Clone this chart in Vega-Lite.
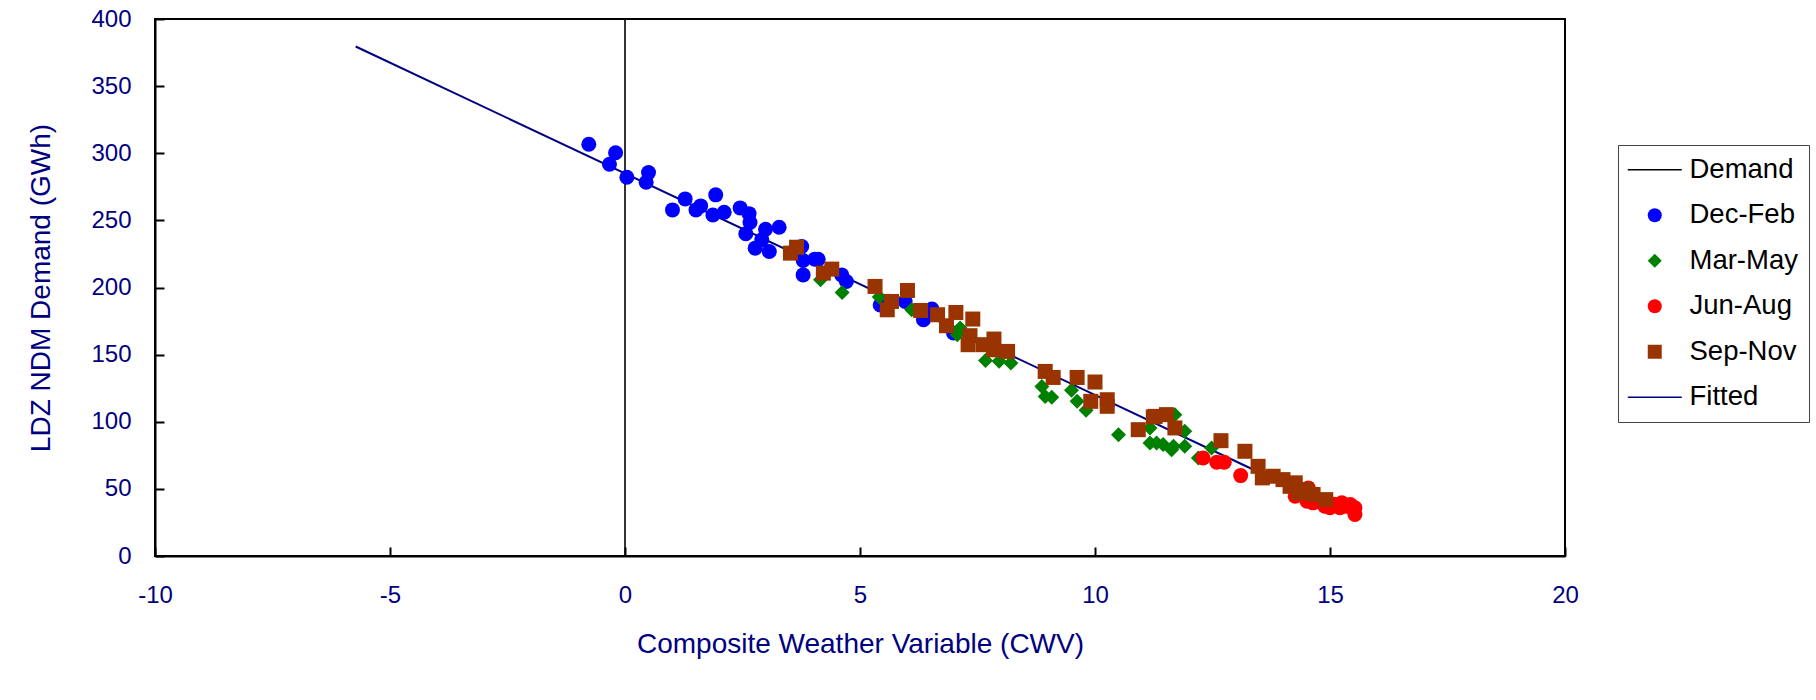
{
  "$schema": "https://vega.github.io/schema/vega-lite/v6.json",
  "autosize": {"type": "none"},
  "width": 1410,
  "height": 537,
  "padding": {"left": 155, "top": 19, "right": 251, "bottom": 144},
  "background": "white",
  "config": {
    "view": {"stroke": "black", "strokeWidth": 2},
    "font": "Liberation Sans",
    "axis": {
      "grid": false,
      "domainColor": "black",
      "domainWidth": 2,
      "tickColor": "black",
      "tickWidth": 2,
      "tickSize": -9,
      "labelFont": "Liberation Sans",
      "labelFontSize": 24,
      "labelColor": "#000080",
      "titleFont": "Liberation Sans",
      "titleFontSize": 28,
      "titleFontWeight": "normal",
      "titleColor": "#000080"
    },
    "legend": {
      "title": null,
      "orient": "none",
      "legendX": 1463,
      "legendY": 126,
      "padding": 11,
      "strokeColor": "#444444",
      "fillColor": "white",
      "labelFont": "Liberation Sans",
      "labelFontSize": 27.5,
      "labelColor": "black",
      "symbolSize": 196,
      "symbolOffset": 12,
      "labelOffset": 21,
      "rowPadding": 16.5
    }
  },
  "data": {
    "values": [
      {"s": "Demand", "cwv": 0, "demand": 0},
      {"s": "Demand", "cwv": 0, "demand": 400},
      {"s": "Fitted", "cwv": -5.73, "demand": 379.5},
      {"s": "Fitted", "cwv": 13.33, "demand": 65},
      {"s": "Dec-Feb", "cwv": -0.77, "demand": 306.7},
      {"s": "Dec-Feb", "cwv": -0.2, "demand": 300.4},
      {"s": "Dec-Feb", "cwv": -0.33, "demand": 291.8},
      {"s": "Dec-Feb", "cwv": 0.04, "demand": 282.1},
      {"s": "Dec-Feb", "cwv": 0.5, "demand": 285.6},
      {"s": "Dec-Feb", "cwv": 0.45, "demand": 278.4},
      {"s": "Dec-Feb", "cwv": 1.01, "demand": 257.8},
      {"s": "Dec-Feb", "cwv": 1.28, "demand": 266.0},
      {"s": "Dec-Feb", "cwv": 1.61, "demand": 260.8},
      {"s": "Dec-Feb", "cwv": 1.51, "demand": 257.8},
      {"s": "Dec-Feb", "cwv": 1.93, "demand": 269.0},
      {"s": "Dec-Feb", "cwv": 1.87, "demand": 254.0},
      {"s": "Dec-Feb", "cwv": 2.11, "demand": 256.1},
      {"s": "Dec-Feb", "cwv": 2.45, "demand": 259.3},
      {"s": "Dec-Feb", "cwv": 2.64, "demand": 255.0},
      {"s": "Dec-Feb", "cwv": 2.66, "demand": 248.4},
      {"s": "Dec-Feb", "cwv": 2.57, "demand": 240.0},
      {"s": "Dec-Feb", "cwv": 2.99, "demand": 243.4},
      {"s": "Dec-Feb", "cwv": 3.28, "demand": 244.9},
      {"s": "Dec-Feb", "cwv": 2.77, "demand": 229.3},
      {"s": "Dec-Feb", "cwv": 3.07, "demand": 226.8},
      {"s": "Dec-Feb", "cwv": 2.91, "demand": 235.5},
      {"s": "Dec-Feb", "cwv": 3.76, "demand": 230.5},
      {"s": "Dec-Feb", "cwv": 3.79, "demand": 220.1},
      {"s": "Dec-Feb", "cwv": 4.04, "demand": 221.1},
      {"s": "Dec-Feb", "cwv": 4.11, "demand": 221.0},
      {"s": "Dec-Feb", "cwv": 3.79, "demand": 209.4},
      {"s": "Dec-Feb", "cwv": 4.61, "demand": 209.4},
      {"s": "Dec-Feb", "cwv": 4.71, "demand": 204.5},
      {"s": "Dec-Feb", "cwv": 5.43, "demand": 187.0},
      {"s": "Dec-Feb", "cwv": 5.53, "demand": 189.6},
      {"s": "Dec-Feb", "cwv": 5.96, "demand": 189.6},
      {"s": "Dec-Feb", "cwv": 6.35, "demand": 176.0},
      {"s": "Dec-Feb", "cwv": 6.53, "demand": 183.9},
      {"s": "Dec-Feb", "cwv": 6.99, "demand": 166.1},
      {"s": "Mar-May", "cwv": 4.16, "demand": 205.7},
      {"s": "Mar-May", "cwv": 4.62, "demand": 196.3},
      {"s": "Mar-May", "cwv": 5.41, "demand": 192.9},
      {"s": "Mar-May", "cwv": 6.1, "demand": 183.4},
      {"s": "Mar-May", "cwv": 7.13, "demand": 169.8},
      {"s": "Mar-May", "cwv": 7.07, "demand": 164.8},
      {"s": "Mar-May", "cwv": 7.67, "demand": 145.7},
      {"s": "Mar-May", "cwv": 7.96, "demand": 145.0},
      {"s": "Mar-May", "cwv": 8.21, "demand": 143.7},
      {"s": "Mar-May", "cwv": 8.87, "demand": 126.3},
      {"s": "Mar-May", "cwv": 8.94, "demand": 118.9},
      {"s": "Mar-May", "cwv": 9.08, "demand": 118.2},
      {"s": "Mar-May", "cwv": 9.5, "demand": 123.4},
      {"s": "Mar-May", "cwv": 9.62, "demand": 115.2},
      {"s": "Mar-May", "cwv": 9.81, "demand": 108.5},
      {"s": "Mar-May", "cwv": 10.5, "demand": 90.4},
      {"s": "Mar-May", "cwv": 11.17, "demand": 95.4},
      {"s": "Mar-May", "cwv": 11.17, "demand": 84.2},
      {"s": "Mar-May", "cwv": 11.31, "demand": 84.2},
      {"s": "Mar-May", "cwv": 11.45, "demand": 83.0},
      {"s": "Mar-May", "cwv": 11.67, "demand": 81.7},
      {"s": "Mar-May", "cwv": 11.63, "demand": 79.2},
      {"s": "Mar-May", "cwv": 11.7, "demand": 105.3},
      {"s": "Mar-May", "cwv": 11.91, "demand": 92.9},
      {"s": "Mar-May", "cwv": 11.91, "demand": 81.7},
      {"s": "Mar-May", "cwv": 12.2, "demand": 73.0},
      {"s": "Mar-May", "cwv": 12.48, "demand": 80.5},
      {"s": "Jun-Aug", "cwv": 12.3, "demand": 73.0},
      {"s": "Jun-Aug", "cwv": 12.59, "demand": 69.8},
      {"s": "Jun-Aug", "cwv": 12.75, "demand": 69.8},
      {"s": "Jun-Aug", "cwv": 13.1, "demand": 59.9},
      {"s": "Jun-Aug", "cwv": 14.54, "demand": 50.7},
      {"s": "Jun-Aug", "cwv": 14.4, "demand": 47.0},
      {"s": "Jun-Aug", "cwv": 14.26, "demand": 44.5},
      {"s": "Jun-Aug", "cwv": 14.51, "demand": 40.8},
      {"s": "Jun-Aug", "cwv": 14.64, "demand": 39.6},
      {"s": "Jun-Aug", "cwv": 14.75, "demand": 42.0},
      {"s": "Jun-Aug", "cwv": 14.89, "demand": 37.1},
      {"s": "Jun-Aug", "cwv": 15.0, "demand": 36.0},
      {"s": "Jun-Aug", "cwv": 15.1, "demand": 38.5},
      {"s": "Jun-Aug", "cwv": 15.25, "demand": 39.6},
      {"s": "Jun-Aug", "cwv": 15.21, "demand": 35.9},
      {"s": "Jun-Aug", "cwv": 15.35, "demand": 37.0},
      {"s": "Jun-Aug", "cwv": 15.43, "demand": 38.3},
      {"s": "Jun-Aug", "cwv": 15.53, "demand": 35.9},
      {"s": "Jun-Aug", "cwv": 15.53, "demand": 30.9},
      {"s": "Sep-Nov", "cwv": 3.52, "demand": 225.6},
      {"s": "Sep-Nov", "cwv": 3.65, "demand": 230.0},
      {"s": "Sep-Nov", "cwv": 4.22, "demand": 210.7},
      {"s": "Sep-Nov", "cwv": 4.4, "demand": 213.7},
      {"s": "Sep-Nov", "cwv": 5.32, "demand": 200.8},
      {"s": "Sep-Nov", "cwv": 5.67, "demand": 189.6},
      {"s": "Sep-Nov", "cwv": 5.58, "demand": 183.4},
      {"s": "Sep-Nov", "cwv": 6.01, "demand": 197.8},
      {"s": "Sep-Nov", "cwv": 6.29, "demand": 182.9},
      {"s": "Sep-Nov", "cwv": 6.65, "demand": 179.7},
      {"s": "Sep-Nov", "cwv": 6.84, "demand": 171.5},
      {"s": "Sep-Nov", "cwv": 7.04, "demand": 181.4},
      {"s": "Sep-Nov", "cwv": 7.4, "demand": 176.5},
      {"s": "Sep-Nov", "cwv": 7.34, "demand": 164.1},
      {"s": "Sep-Nov", "cwv": 7.3, "demand": 157.4},
      {"s": "Sep-Nov", "cwv": 7.62, "demand": 157.4},
      {"s": "Sep-Nov", "cwv": 7.85, "demand": 161.6},
      {"s": "Sep-Nov", "cwv": 7.84, "demand": 153.6},
      {"s": "Sep-Nov", "cwv": 8.14, "demand": 152.4},
      {"s": "Sep-Nov", "cwv": 8.94, "demand": 137.5},
      {"s": "Sep-Nov", "cwv": 9.11, "demand": 133.0},
      {"s": "Sep-Nov", "cwv": 9.62, "demand": 133.0},
      {"s": "Sep-Nov", "cwv": 10.0, "demand": 129.6},
      {"s": "Sep-Nov", "cwv": 9.91, "demand": 115.2},
      {"s": "Sep-Nov", "cwv": 10.26, "demand": 116.4},
      {"s": "Sep-Nov", "cwv": 10.26, "demand": 111.5},
      {"s": "Sep-Nov", "cwv": 10.92, "demand": 94.1},
      {"s": "Sep-Nov", "cwv": 11.24, "demand": 103.6},
      {"s": "Sep-Nov", "cwv": 11.52, "demand": 105.3},
      {"s": "Sep-Nov", "cwv": 11.7, "demand": 95.4},
      {"s": "Sep-Nov", "cwv": 11.28, "demand": 104.0},
      {"s": "Sep-Nov", "cwv": 12.68, "demand": 85.9},
      {"s": "Sep-Nov", "cwv": 13.19, "demand": 78.0},
      {"s": "Sep-Nov", "cwv": 13.47, "demand": 66.8},
      {"s": "Sep-Nov", "cwv": 13.56, "demand": 58.2},
      {"s": "Sep-Nov", "cwv": 13.79, "demand": 59.4},
      {"s": "Sep-Nov", "cwv": 14.0, "demand": 56.9},
      {"s": "Sep-Nov", "cwv": 14.15, "demand": 51.9},
      {"s": "Sep-Nov", "cwv": 14.26, "demand": 54.5},
      {"s": "Sep-Nov", "cwv": 14.33, "demand": 47.0},
      {"s": "Sep-Nov", "cwv": 14.49, "demand": 49.5},
      {"s": "Sep-Nov", "cwv": 14.64, "demand": 45.8},
      {"s": "Sep-Nov", "cwv": 14.91, "demand": 42.0}
    ]
  },
  "encoding": {
    "x": {
      "field": "cwv",
      "type": "quantitative",
      "scale": {"domain": [-10, 20], "nice": false, "zero": false},
      "axis": {
        "title": "Composite Weather Variable (CWV)",
        "values": [-10, -5, 0, 5, 10, 15, 20],
        "labelExpr": "'' + datum.value",
        "labelPadding": 36,
        "labelFlush": false,
        "titlePadding": 23
      }
    },
    "y": {
      "field": "demand",
      "type": "quantitative",
      "scale": {"domain": [0, 400], "nice": false},
      "axis": {
        "title": "LDZ NDM Demand (GWh)",
        "values": [0, 50, 100, 150, 200, 250, 300, 350, 400],
        "labelExpr": "'' + datum.value",
        "labelPadding": 33,
        "labelFlush": false,
        "titlePadding": 35
      }
    },
    "color": {
      "field": "s",
      "type": "nominal",
      "scale": {
        "domain": ["Demand", "Dec-Feb", "Mar-May", "Jun-Aug", "Sep-Nov", "Fitted"],
        "range": ["#000000", "#0000FF", "#008000", "#FF0000", "#993300", "#000080"]
      },
      "legend": {
        "encode": {
          "symbols": {
            "update": {
              "fill": {"scale": "color", "field": "value"},
              "stroke": {"scale": "color", "field": "value"},
              "opacity": {"value": 1},
              "strokeWidth": {"signal": "datum.value === 'Demand' || datum.value === 'Fitted' ? 1.6 : 0"},
              "size": {"signal": "datum.value === 'Demand' || datum.value === 'Fitted' ? 2916 : 196"}
            }
          }
        }
      }
    }
  },
  "layer": [
    {
      "transform": [{"filter": "datum.s === 'Demand'"}],
      "mark": {"type": "line", "strokeWidth": 1.6}
    },
    {
      "transform": [{"filter": "datum.s === 'Fitted'"}],
      "mark": {"type": "line", "strokeWidth": 2}
    },
    {
      "transform": [{"filter": "datum.s !== 'Demand' && datum.s !== 'Fitted'"}],
      "mark": {"type": "point", "filled": true, "opacity": 1, "size": 225, "strokeWidth": 0},
      "encoding": {
        "shape": {
          "field": "s",
          "type": "nominal",
          "scale": {
            "domain": ["Demand", "Dec-Feb", "Mar-May", "Jun-Aug", "Sep-Nov", "Fitted"],
            "range": ["stroke", "circle", "diamond", "circle", "square", "stroke"]
          },
          "legend": {
            "encode": {
              "symbols": {
                "update": {
                  "fill": {"scale": "color", "field": "value"},
                  "stroke": {"scale": "color", "field": "value"},
                  "opacity": {"value": 1},
                  "strokeWidth": {"signal": "datum.value === 'Demand' || datum.value === 'Fitted' ? 1.6 : 0"},
                  "size": {"signal": "datum.value === 'Demand' || datum.value === 'Fitted' ? 2916 : 196"}
                }
              }
            }
          }
        }
      }
    }
  ]
}
